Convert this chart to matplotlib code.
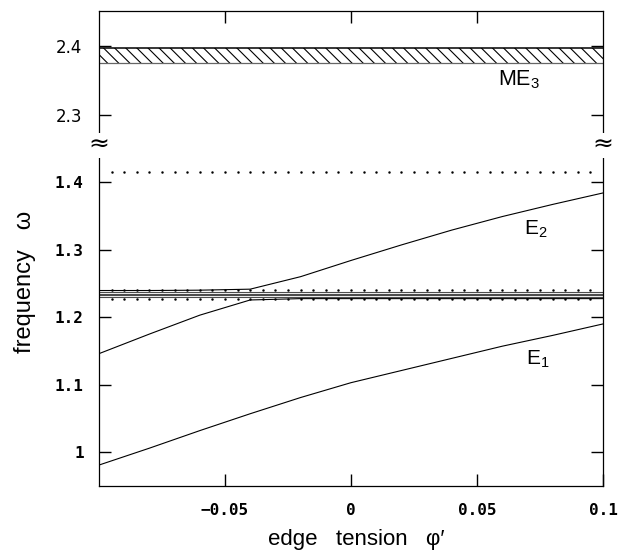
import numpy as np
import matplotlib.pyplot as plt

# edge tension values where the modes were computed
phi = [-0.1, -0.08, -0.06, -0.04, -0.02, 0.0, 0.02, 0.04, 0.06, 0.08, 0.1]

# E1 branch
e1 = [0.981, 1.006, 1.032, 1.057, 1.081, 1.103, 1.121, 1.139, 1.157, 1.173, 1.190]

# E2 branches (avoided crossing with the flat band near 1.23)
e2_upper = [1.2395, 1.2395, 1.240, 1.2415, 1.260, 1.284, 1.307, 1.329, 1.349, 1.367, 1.384]
e2_lower = [1.146, 1.175, 1.203, 1.2255, 1.2275, 1.2275, 1.2275, 1.2275, 1.2275, 1.2275, 1.2275]

# flat modes in the band
band_lines = [1.2375, 1.235, 1.2325, 1.230]

# dotted reference levels
dot_levels = [1.415, 1.241, 1.2265]
dot_phi = np.linspace(-0.095, 0.095, 39)

# ME3 continuum band
me3_lo, me3_hi = 2.375, 2.396

xticks = [-0.05, 0.0, 0.05, 0.1]
xticklabels = ['\u22120.05', '0', '0.05', '0.1']
yticks_top = [2.3, 2.4]
yticks_bot = [1.0, 1.1, 1.2, 1.3, 1.4]
yticklabels_bot = ['1', '1.1', '1.2', '1.3', '1.4']

sans = ['Liberation Sans', 'DejaVu Sans']
mono = ['DejaVu Sans Mono']

plt.rcParams['mathtext.default'] = 'regular'
plt.rcParams['hatch.linewidth'] = 0.8

fig = plt.figure(figsize=(6.18, 5.52), dpi=100)
ax_top = fig.add_axes([0.1602, 0.7373, 0.8155, 0.2428])
ax_bot = fig.add_axes([0.1602, 0.1196, 0.8155, 0.6177])

for ax in (ax_top, ax_bot):
    ax.set_xlim(-0.1, 0.1)
    for s in ax.spines.values():
        s.set_linewidth(0.9)
    ax.tick_params(direction='in', length=8.5, width=1.0, left=True, right=True)

ax_top.set_ylim(2.256, 2.45)
ax_bot.set_ylim(0.95, 1.455)
ax_top.spines['bottom'].set_visible(False)
ax_bot.spines['top'].set_visible(False)

# top panel: ME3 band
ax_top.fill_between([-0.1, 0.1], me3_lo, me3_hi, facecolor='white',
                    edgecolor='black', hatch='\\\\\\', linewidth=0)
ax_top.plot([-0.1, 0.1], [me3_hi, me3_hi], color='black', lw=1.1)
ax_top.plot([-0.1, 0.1], [me3_lo, me3_lo], color='0.4', lw=0.9)
ax_top.text(0.0583, 2.342, 'ME$_3$', fontsize=15.5, family=sans)

ax_top.set_xticks([-0.05, 0.0, 0.05])
ax_top.tick_params(axis='x', top=True, bottom=False, labelbottom=False,
                   labeltop=False, direction='in', length=8.5, width=1.0)
ax_top.set_yticks(yticks_top)
ax_top.set_yticklabels(['2.3', '2.4'], fontsize=12, family=['DejaVu Sans'])
ax_top.tick_params(axis='y', pad=12)

# bottom panel: mode curves
ax_bot.plot(phi, e1, color='black', lw=0.8)
ax_bot.plot(phi, e2_upper, color='black', lw=0.8)
ax_bot.plot(phi, e2_lower, color='black', lw=0.8)
for yv in band_lines:
    ax_bot.axhline(yv, color='0.3', lw=0.8)
for yv in dot_levels:
    ax_bot.plot(dot_phi, [yv] * len(dot_phi), ls='none', marker='o',
                ms=1.4, mfc='black', mec='black', mew=0.3)

ax_bot.text(0.0685, 1.3215, 'E$_2$', fontsize=15, family=sans)
ax_bot.text(0.0695, 1.130, 'E$_1$', fontsize=15, family=sans)

ax_bot.set_xticks(xticks)
ax_bot.set_xticklabels(xticklabels, fontsize=11.5, family=mono, weight='bold')
ax_bot.tick_params(axis='x', top=False, bottom=True, pad=12)
ax_bot.set_yticks(yticks_bot)
ax_bot.set_yticklabels(yticklabels_bot, fontsize=11.5, family=mono, weight='bold')
ax_bot.tick_params(axis='y', pad=11)

# axis break marks
for xa in (0.0, 1.0):
    ax_bot.text(xa, 1.0, '\u2248', transform=ax_bot.transAxes, fontsize=18,
                ha='center', va='center',
                bbox=dict(facecolor='white', edgecolor='none', pad=0.3))

fig.text(356 / 618, 1 - 545 / 552, 'edge   tension   \u03c6\u2032', fontsize=16,
         family=sans, ha='center', va='baseline')
fig.text(25 / 618, 1 - 282 / 552, 'frequency   \u03c9', fontsize=17,
         family=sans, ha='center', va='center', rotation=90)

fig.savefig('out.png', dpi=100)
